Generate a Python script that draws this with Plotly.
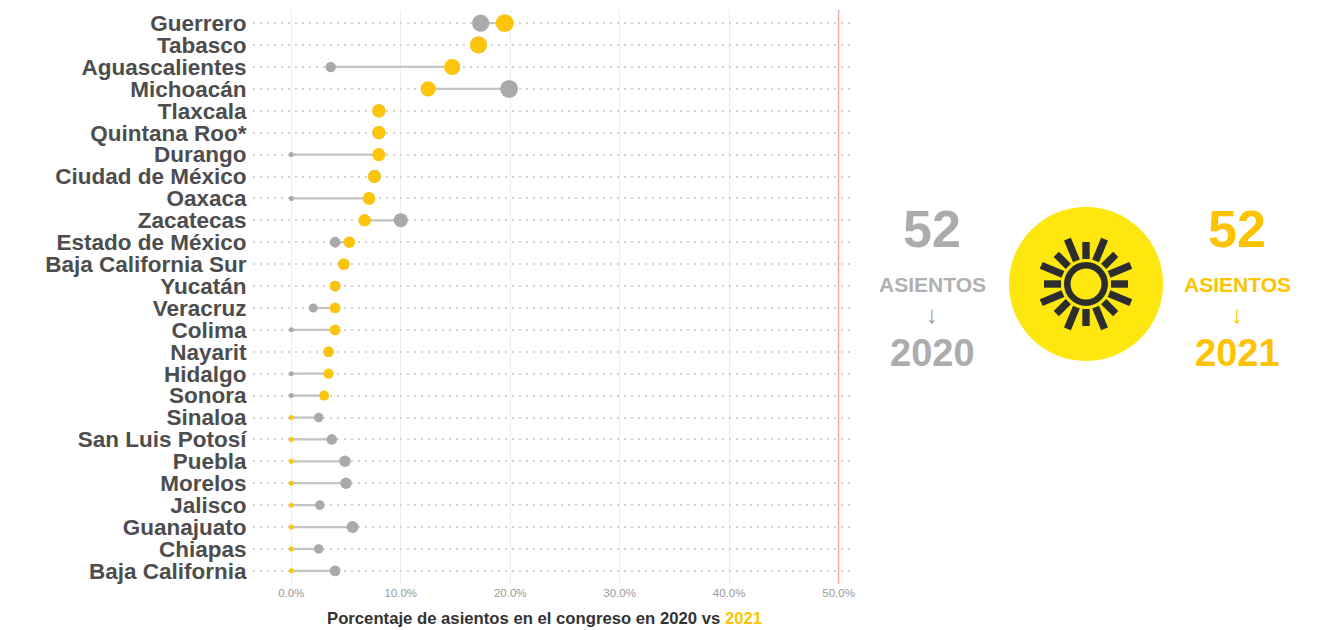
import math
import plotly.graph_objects as go

# ---------------- data ----------------
states = ["Guerrero", "Tabasco", "Aguascalientes", "Michoacán", "Tlaxcala",
          "Quintana Roo*", "Durango", "Ciudad de México", "Oaxaca", "Zacatecas",
          "Estado de México", "Baja California Sur", "Yucatán", "Veracruz", "Colima",
          "Nayarit", "Hidalgo", "Sonora", "Sinaloa", "San Luis Potosí",
          "Puebla", "Morelos", "Jalisco", "Guanajuato", "Chiapas", "Baja California"]
pct_2020 = [17.3, 17.1, 3.6, 19.9, 8.0,
            8.0, 0.0, 7.6, 0.0, 10.0,
            4.0, 4.8, 4.0, 2.0, 0.0,
            3.4, 0.0, 0.0, 2.5, 3.7,
            4.9, 5.0, 2.6, 5.6, 2.5, 4.0]
pct_2021 = [19.5, 17.1, 14.7, 12.5, 8.0,
            8.0, 8.0, 7.6, 7.1, 6.7,
            5.3, 4.8, 4.0, 4.0, 4.0,
            3.4, 3.4, 3.0, 0.0, 0.0,
            0.0, 0.0, 0.0, 0.0, 0.0, 0.0]
x_ticks = [0, 10, 20, 30, 40, 50]
x_tick_labels = ["0.0%", "10.0%", "20.0%", "30.0%", "40.0%", "50.0%"]
seats_2020 = "52"
seats_2021 = "52"

GRAY = "#aaaaaa"
YELLOW = "#fcc50b"
YELLOW_TXT = "#fdc300"
DARK = "#4d4d4d"
FONT = "Liberation Sans, Arial, sans-serif"

W_FIG, H_FIG = 1338, 630
L, R, T, B = 253, 855, 10, 584


def px(xp):
    return (xp - L) / (R - L)


def py(yp):
    return (B - yp) / (B - T)


def msize(v):
    return 5 + 2.9 * math.sqrt(v)


fig = go.Figure()

# connecting segments
lx, ly = [], []
for s, a, b in zip(states, pct_2020, pct_2021):
    lx += [a, b, None]
    ly += [s, s, None]
fig.add_trace(go.Scatter(x=lx, y=ly, mode="lines",
                         line=dict(color="#c4c4c4", width=2.2),
                         hoverinfo="skip", showlegend=False))

fig.add_trace(go.Scatter(x=pct_2020, y=states, mode="markers", name="2020",
                         marker=dict(color=GRAY, size=[msize(v) for v in pct_2020],
                                     opacity=1, line=dict(width=0)),
                         showlegend=False))
fig.add_trace(go.Scatter(x=pct_2021, y=states, mode="markers", name="2021",
                         marker=dict(color=YELLOW, size=[msize(v) for v in pct_2021],
                                     opacity=1, line=dict(width=0)),
                         showlegend=False))

shapes = []
# 50% reference line
shapes.append(dict(type="line", xref="x", yref="paper", x0=50, x1=50, y0=0, y1=1,
                   line=dict(color="#f3a9a9", width=1.5)))

# logo circle
cx, cy, rr = 1086, 284, 77
shapes.append(dict(type="circle", xref="paper", yref="paper",
                   x0=px(cx - rr), x1=px(cx + rr), y0=py(cy + rr), y1=py(cy - rr),
                   fillcolor="#fde70f", line=dict(width=0)))
# sun ring
rring = 18.7
shapes.append(dict(type="circle", xref="paper", yref="paper",
                   x0=px(cx - rring), x1=px(cx + rring), y0=py(cy + rring), y1=py(cy - rring),
                   fillcolor="rgba(0,0,0,0)", line=dict(color="#2d2d2d", width=6.5)))
# sun rays
for k in range(16):
    ang = math.radians(90 + k * 22.5)
    r0, r1 = (25, 42) if k % 2 == 0 else (25, 48.5)
    hw = 3.7
    ux, uy = math.cos(ang), -math.sin(ang)
    nx, ny = -uy, ux
    pts = [(cx + ux * r0 + nx * hw, cy + uy * r0 + ny * hw),
           (cx + ux * r1 + nx * hw, cy + uy * r1 + ny * hw),
           (cx + ux * r1 - nx * hw, cy + uy * r1 - ny * hw),
           (cx + ux * r0 - nx * hw, cy + uy * r0 - ny * hw)]
    path = "M " + " L ".join(f"{px(a):.5f},{py(b):.5f}" for a, b in pts) + " Z"
    shapes.append(dict(type="path", xref="paper", yref="paper", path=path,
                       fillcolor="#2d2d2d", line=dict(width=0)))

annotations = []


def txt(x, y, text, size, color, bold=True):
    annotations.append(dict(xref="paper", yref="paper", x=px(x), y=py(y),
                            text=f"<b>{text}</b>" if bold else text, showarrow=False,
                            xanchor="center", yanchor="middle",
                            font=dict(family=FONT, size=size, color=color)))


txt(932, 229, seats_2020, 52, "#acacac")
txt(932, 285, "ASIENTOS", 21, "#b0b0b0")
txt(932, 314, "↓", 24, "#9a9a9a", bold=False)
txt(932, 353, "2020", 38, "#acacac")
txt(1237, 229, seats_2021, 52, YELLOW_TXT)
txt(1237, 285, "ASIENTOS", 21, YELLOW_TXT)
txt(1237, 314, "↓", 24, YELLOW_TXT, bold=False)
txt(1237, 353, "2021", 38, YELLOW_TXT)

annotations.append(dict(xref="paper", yref="paper", x=px(544), y=py(618),
                        text="<b>Porcentaje de asientos en el congreso en 2020 vs "
                             f"<span style='color:{YELLOW_TXT}'>2021</span></b>",
                        showarrow=False, xanchor="center", yanchor="middle",
                        font=dict(family=FONT, size=16.7, color="#333333")))

fig.update_layout(
    width=W_FIG, height=H_FIG,
    margin=dict(l=L, r=W_FIG - R, t=T, b=H_FIG - B, autoexpand=False),
    paper_bgcolor="white", plot_bgcolor="white",
    shapes=shapes, annotations=annotations,
    font=dict(family=FONT),
    xaxis=dict(range=[-3.5, 51.5], tickmode="array", tickvals=x_ticks, ticktext=x_tick_labels,
               showgrid=True, gridcolor="#ededed", gridwidth=1, zeroline=False,
               showline=False, ticks="", automargin=False,
               tickfont=dict(size=11.5, color="#999999")),
    yaxis=dict(type="category", categoryarray=states, categoryorder="array",
               range=[25.6, -0.6], tickmode="array", tickvals=states, ticktext=states,
               showgrid=True, gridcolor="#d3d3d3", griddash="1.5px,5.5px", gridwidth=1.5,
               zeroline=False, showline=False, ticks="outside", ticklen=1,
               tickcolor="rgba(0,0,0,0)", automargin=False,
               tickfont=dict(size=22.5, color=DARK, family=FONT, weight="bold")),
)

fig.write_html("out.html", config={"displayModeBar": False},
               post_script="document.body.style.margin='0px';"
                           "document.body.style.overflow='hidden';")
